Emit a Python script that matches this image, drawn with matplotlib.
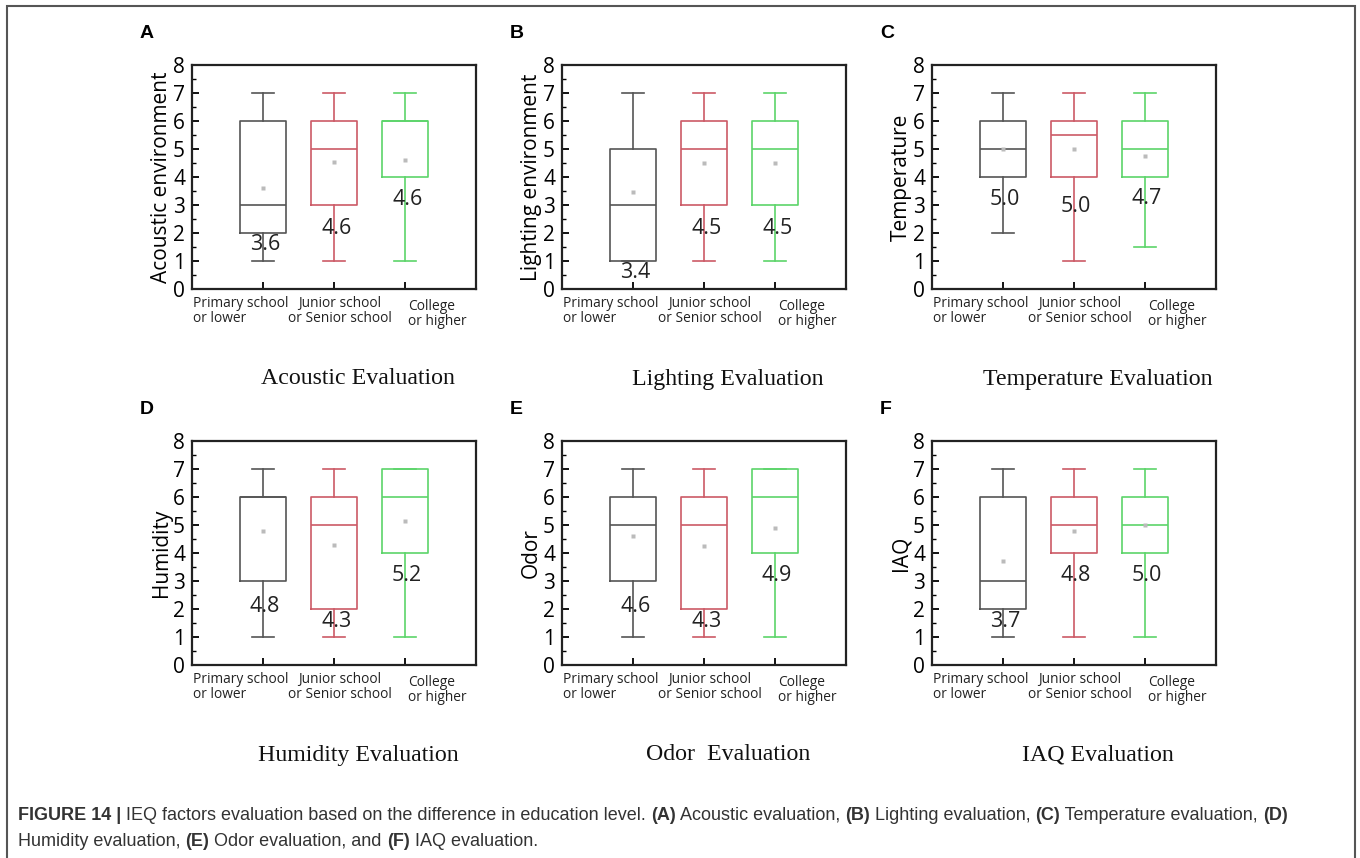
import matplotlib
matplotlib.use('Agg')
import matplotlib.pyplot as plt
from matplotlib.patches import Rectangle
from matplotlib.ticker import MultipleLocator

groups = ['Primary school\nor lower', 'Junior school\nor Senior school', 'College\nor higher']
colors = ['#555555', '#cc5a66', '#5cd46a']

panels = ['A', 'B', 'C', 'D', 'E', 'F']
ylabels = ['Acoustic environment', 'Lighting environment', 'Temperature',
           'Humidity', 'Odor', 'IAQ']
titles = ['Acoustic Evaluation', 'Lighting Evaluation', 'Temperature Evaluation',
          'Humidity Evaluation', 'Odor  Evaluation', 'IAQ Evaluation']

# per panel, per group: whisker low, q1, median, q3, whisker high, mean
whislo = [[1, 1, 1], [1, 1, 1], [2, 1, 1.5], [1, 1, 1], [1, 1, 1], [1, 1, 1]]
q1 = [[2, 3, 4], [1, 3, 3], [4, 4, 4], [3, 2, 4], [3, 2, 4], [2, 4, 4]]
med = [[3, 5, 6], [3, 5, 5], [5, 5.5, 5], [6, 5, 6], [5, 5, 6], [3, 5, 5]]
q3 = [[6, 6, 6], [5, 6, 6], [6, 6, 6], [6, 6, 7], [6, 6, 7], [6, 6, 6]]
whishi = [[7, 7, 7], [7, 7, 7], [7, 7, 7], [7, 7, 7], [7, 7, 7], [7, 7, 7]]
means = [[3.6, 4.55, 4.6], [3.45, 4.5, 4.5], [5.0, 5.0, 4.75],
         [4.8, 4.3, 5.15], [4.6, 4.25, 4.9], [3.7, 4.8, 5.0]]
# printed mean labels and the height they sit at
mean_text = [['3.6', '4.6', '4.6'], ['3.4', '4.5', '4.5'], ['5.0', '5.0', '4.7'],
             ['4.8', '4.3', '5.2'], ['4.6', '4.3', '4.9'], ['3.7', '4.8', '5.0']]
text_y = [[1.6, 2.15, 3.2], [0.6, 2.15, 2.15], [3.2, 2.95, 3.25],
          [2.1, 1.57, 3.18], [2.1, 1.57, 3.2], [1.57, 3.18, 3.18]]

W, H = 1360, 858
fig = plt.figure(figsize=(13.6, 8.58), dpi=100)

lefts = [192, 562, 932]
tops = [65, 441]
axw, axh = 284, 224
sans = 'Open Sans'

for i in range(6):
    r, c = divmod(i, 3)
    ax = fig.add_axes([lefts[c] / W, 1 - (tops[r] + axh) / H, axw / W, axh / H])
    stats = []
    for g in range(3):
        stats.append({'whislo': whislo[i][g], 'q1': q1[i][g], 'med': med[i][g],
                      'q3': q3[i][g], 'whishi': whishi[i][g], 'mean': means[i][g],
                      'fliers': []})
    pos = [1, 2, 3]
    for g in range(3):
        col = colors[g]
        lp = dict(color=col, linewidth=1.2)
        ax.bxp([stats[g]], positions=[pos[g]], widths=0.64, showmeans=True,
               boxprops=lp, whiskerprops=lp, capprops=lp, medianprops=lp,
               meanprops=dict(marker='s', markersize=3.5, markerfacecolor='#bbbbbb',
                              markeredgecolor='none'),
               capwidths=0.32, manage_ticks=False)
        ax.text(pos[g] + 0.03, text_y[i][g], mean_text[i][g], ha='center', va='center',
                fontsize=15.5, family=sans, color='#222222')
    ax.set_xlim(0, 4)
    ax.set_ylim(0, 8)
    ax.set_xticks(pos)
    ax.set_xticklabels(['', '', ''])
    ax.yaxis.set_major_locator(MultipleLocator(1))
    ax.yaxis.set_minor_locator(MultipleLocator(0.5))
    ax.tick_params(axis='both', which='major', direction='in', length=5, width=1.3,
                   labelsize=15, pad=5)
    ax.tick_params(axis='y', which='minor', direction='in', length=3, width=1)
    for lab in ax.get_yticklabels():
        lab.set_family(sans)
    for sp in ax.spines.values():
        sp.set_linewidth(1.6)
        sp.set_color('#222222')
    ax.set_ylabel(ylabels[i], fontsize=15, family=sans, labelpad=1)
    # category labels under the axis
    tr = ax.get_xaxis_transform()
    ax.text(0.02, -0.03, groups[0], transform=tr, ha='left', va='top',
            fontsize=9.9, family=sans, color='#222222', linespacing=1.0)
    ax.text(2.08, -0.03, groups[1], transform=tr, ha='center', va='top',
            fontsize=9.9, family=sans, color='#222222', linespacing=1.0)
    ax.text(3.04, -0.045, groups[2], transform=tr, ha='left', va='top',
            fontsize=9.9, family=sans, color='#222222', linespacing=1.0)

    fig.text((lefts[c] - 52) / W, 1 - (tops[r] - 31) / H, panels[i], fontsize=14,
             fontweight='bold', family='Liberation Sans', ha='left', va='center')
    fig.text((lefts[c] + 166) / W, 1 - (tops[r] + 314) / H, titles[i], fontsize=17.2,
             family='Liberation Serif', ha='center', va='center', color='#111111')

# outer frame
fig.patches.append(Rectangle((7 / W, -0.02), (1355 - 7) / W, 1 - 6 / H + 0.02,
                             transform=fig.transFigure, fill=False,
                             edgecolor='#555555', linewidth=1.5))

# caption with bold pieces
line1 = [('FIGURE 14 | ', 'bold'),
         ('IEQ factors evaluation based on the difference in education level. ', 'normal'),
         ('(A)', 'bold'), (' Acoustic evaluation, ', 'normal'),
         ('(B)', 'bold'), (' Lighting evaluation, ', 'normal'),
         ('(C)', 'bold'), (' Temperature evaluation, ', 'normal'), ('(D)', 'bold')]
line2 = [('Humidity evaluation, ', 'normal'), ('(E)', 'bold'),
         (' Odor evaluation, and ', 'normal'), ('(F)', 'bold'),
         (' IAQ evaluation.', 'normal')]

renderer = fig.canvas.get_renderer()
for line, ypix in [(line1, 815), (line2, 841)]:
    x = 18
    for s, wt in line:
        t = fig.text(x / W, 1 - ypix / H, s, fontsize=13.0, fontweight=wt,
                     family='Liberation Sans', ha='left', va='center', color='#333333')
        x += t.get_window_extent(renderer).width

fig.savefig('out.png', dpi=100)
